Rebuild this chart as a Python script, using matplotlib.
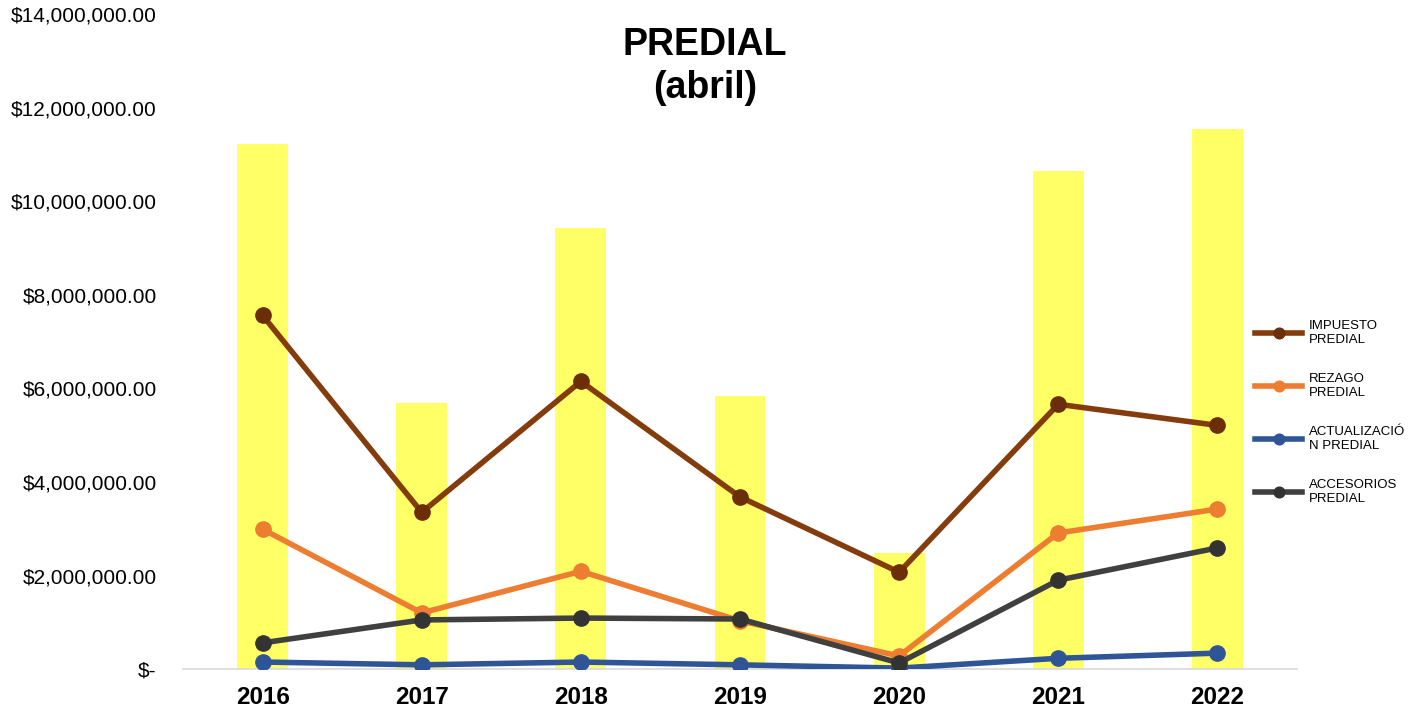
import numpy as np
import matplotlib.pyplot as plt

plt.rcParams['font.family'] = ['Liberation Sans', 'DejaVu Sans']

years = ['2016', '2017', '2018', '2019', '2020', '2021', '2022']
total = [11.22e6, 5.68e6, 9.44e6, 5.83e6, 2.48e6, 10.64e6, 11.54e6]
impuesto = [7.56e6, 3.35e6, 6.15e6, 3.68e6, 2.07e6, 5.66e6, 5.21e6]
rezago = [2.99e6, 1.20e6, 2.09e6, 1.03e6, 0.28e6, 2.91e6, 3.42e6]
actualizacion = [0.15e6, 0.09e6, 0.15e6, 0.09e6, 0.02e6, 0.23e6, 0.34e6]
accesorios = [0.56e6, 1.05e6, 1.09e6, 1.07e6, 0.13e6, 1.90e6, 2.59e6]

fig = plt.figure(figsize=(14.19, 7.11), dpi=100)
ax = fig.add_axes([0.129, 0.059, 0.785, 0.921])

x = np.arange(len(years))
ax.bar(x, total, width=0.32, color='#FFFF66', zorder=1)

series = [
    (impuesto, 'IMPUESTO\nPREDIAL', '#843C0C', '#6B2E08'),
    (rezago, 'REZAGO\nPREDIAL', '#ED7D31', '#ED7D31'),
    (actualizacion, 'ACTUALIZACIÓ\nN PREDIAL', '#2F5597', '#2F5597'),
    (accesorios, 'ACCESORIOS\nPREDIAL', '#404040', '#333333'),
]
for vals, lab, c, mc in series:
    ax.plot(x, vals, color=c, lw=4, marker='o', ms=11, mfc=mc, mec=mc,
            label=lab, zorder=3)

ax.set_xlim(-0.5, len(years) - 0.5)
ax.set_ylim(0, 14e6)
ax.set_yticks(np.arange(0, 14.1e6, 2e6))
ylabels = ['$-'] + ['${:,.2f}'.format(v) for v in np.arange(2e6, 14.1e6, 2e6)]
ax.set_yticklabels(ylabels, fontsize=15)
ax.set_xticks(x)
ax.set_xticklabels(years, fontsize=17.5, fontweight='bold')
ax.tick_params(axis='y', length=0, pad=19)
ax.tick_params(axis='x', length=0, pad=12)
for s in ['top', 'right', 'left']:
    ax.spines[s].set_visible(False)
ax.spines['bottom'].set_color('#D9D9D9')
ax.spines['bottom'].set_linewidth(1.2)

fig.text(0.497, 0.962, 'PREDIAL\n(abril)', ha='center', va='top',
         fontsize=27, fontweight='bold', linespacing=1.25)

leg = fig.legend(loc='center left', bbox_to_anchor=(0.876, 0.42),
                 frameon=False, fontsize=9.5, labelspacing=2.05,
                 handlelength=3.6, handletextpad=0.5, markerscale=0.7)

fig.savefig('out.png', dpi=100)
